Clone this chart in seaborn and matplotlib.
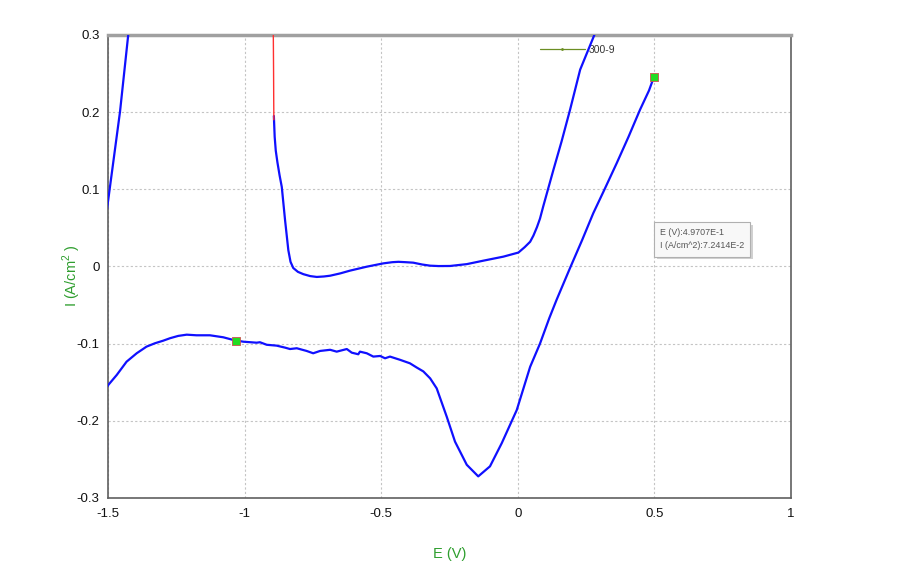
import numpy as np
import pandas as pd
import seaborn as sns
import matplotlib.pyplot as plt
from matplotlib.lines import Line2D
from matplotlib.ticker import MultipleLocator
import matplotlib.patheffects as pe

# forward scan, first bit (red) near -0.9 V
red_E = [-0.897, -0.895, -0.894, -0.8935, -0.893]
red_I = [0.320, 0.300, 0.250, 0.215, 0.190]

# forward scan, blue
fwd_E = [-0.893, -0.890, -0.886, -0.880, -0.872, -0.864, -0.852, -0.840, -0.832, -0.822,
         -0.805, -0.785, -0.760, -0.736, -0.710, -0.687, -0.650, -0.614, -0.553,
         -0.492, -0.460, -0.437, -0.410, -0.383, -0.350, -0.321, -0.290, -0.248,
         -0.187, -0.126, -0.053, 0.002, 0.025, 0.045, 0.057, 0.070, 0.081, 0.093,
         0.130, 0.160, 0.191, 0.228, 0.280, 0.290]
fwd_I = [0.195, 0.168, 0.150, 0.135, 0.118, 0.103, 0.060, 0.021, 0.006, -0.002,
         -0.007, -0.010, -0.0125, -0.0136, -0.013, -0.012, -0.009, -0.0054, -0.0003,
         0.004, 0.0055, 0.006, 0.0055, 0.0049, 0.0025, 0.001, 0.0005, 0.0006,
         0.003, 0.0075, 0.0127, 0.018, 0.025, 0.032, 0.040, 0.051, 0.062, 0.078,
         0.125, 0.162, 0.203, 0.255, 0.300, 0.315]

# reverse scan from 0.5 V back to -1.5 V
rev_E = [0.4985, 0.480, 0.447, 0.405, 0.362, 0.320, 0.276, 0.235, 0.191, 0.142,
         0.115, 0.081, 0.045, -0.004, -0.059, -0.102, -0.145, -0.187, -0.230,
         -0.260, -0.297, -0.321, -0.346, -0.370, -0.395, -0.431, -0.468, -0.486,
         -0.504, -0.529, -0.553, -0.578, -0.584, -0.608, -0.626, -0.663, -0.687,
         -0.724, -0.749, -0.773, -0.809, -0.834, -0.852, -0.883, -0.919, -0.944,
         -0.956, -1.005, -1.041, -1.078, -1.127, -1.176, -1.212, -1.243, -1.273,
         -1.298, -1.328, -1.359, -1.395, -1.432, -1.468, -1.499, -1.520]
rev_I = [0.246, 0.228, 0.203, 0.168, 0.134, 0.102, 0.069, 0.034, -0.002, -0.043,
         -0.067, -0.100, -0.130, -0.186, -0.229, -0.259, -0.272, -0.257, -0.227,
         -0.195, -0.158, -0.145, -0.136, -0.131, -0.1255, -0.121, -0.1168, -0.119,
         -0.116, -0.1168, -0.1125, -0.1104, -0.1138, -0.1117, -0.107, -0.1104, -0.108,
         -0.1095, -0.1125, -0.1095, -0.106, -0.107, -0.1052, -0.1026, -0.1015, -0.0982,
         -0.0988, -0.0975, -0.0953, -0.0918, -0.0892, -0.0892, -0.0884, -0.090, -0.093,
         -0.0962, -0.0995, -0.1039, -0.1125, -0.1234, -0.1406, -0.1536, -0.165]

# second cycle coming up on the left edge
left_E = [-1.520, -1.500, -1.456, -1.426, -1.420]
left_I = [0.030, 0.084, 0.2006, 0.300, 0.320]

# cursor markers
mark_E = [0.4985, -1.032]
mark_I = [0.246, -0.096]

series_name = "300-9"
tip_lines = ["E (V):4.9707E-1", "I (A/cm^2):7.2414E-2"]

sns.set_style("white")
plt.rcParams['font.family'] = ['Liberation Sans', 'DejaVu Sans']
plt.rcParams['mathtext.fontset'] = 'custom'
plt.rcParams['mathtext.rm'] = 'Liberation Sans'

fig = plt.figure(figsize=(9, 5.81), dpi=100)
ax = fig.add_axes([0.12, 0.1429, 0.759, 0.797])

blue = "#1010ff"
segs = [(fwd_E, fwd_I), (rev_E, rev_I), (left_E, left_I)]
for e, i in segs:
    df = pd.DataFrame({"E": e, "I": i})
    sns.lineplot(data=df, x="E", y="I", sort=False, estimator=None,
                 color=blue, linewidth=1.6, ax=ax, zorder=3)
red_df = pd.DataFrame({"E": red_E, "I": red_I})
sns.lineplot(data=red_df, x="E", y="I", sort=False, estimator=None,
             color="#ff3030", linewidth=1.0, ax=ax, zorder=3)

mk = pd.DataFrame({"E": mark_E, "I": mark_I})
sns.scatterplot(data=mk, x="E", y="I", marker="s", s=30, color="#22dd22",
                edgecolor="#d05050", linewidth=0.6, ax=ax, zorder=4)

ax.set_xlim(-1.5, 1)
ax.set_ylim(-0.3, 0.3)
ax.xaxis.set_major_locator(MultipleLocator(0.5))
ax.xaxis.set_minor_locator(MultipleLocator(0.25))
ax.yaxis.set_major_locator(MultipleLocator(0.1))
ax.yaxis.set_minor_locator(MultipleLocator(0.05))
ax.xaxis.set_major_formatter(plt.FuncFormatter(lambda v, p: f"{v:g}"))
ax.yaxis.set_major_formatter(plt.FuncFormatter(lambda v, p: f"{v:g}"))
ax.tick_params(which="major", length=0, labelsize=9.5, pad=7, labelcolor="#111111")
ax.tick_params(axis="y", which="major", pad=6)
ax.tick_params(which="minor", direction="in", length=4, color="#666666", width=0.8)
ax.grid(True, which="major", color="#c4c4c4", linestyle=(0, (2, 2)), linewidth=0.8)

for s in ["left", "bottom", "right"]:
    ax.spines[s].set_color("#606060")
    ax.spines[s].set_linewidth(1.2)
ax.spines["top"].set_color("#a0a0a0")
ax.spines["top"].set_linewidth(2.5)

ax.set_xlabel("E (V)", color="#2e9e2e", fontsize=10.5, labelpad=20)
ax.set_ylabel("I (A/cm$^{2}$ )", color="#2e9e2e", fontsize=10.5)
ax.yaxis.set_label_coords(-0.036, 0.48)

# legend
h = Line2D([], [], color="#6b8e23", linewidth=0.9, marker=".", markersize=2)
leg = ax.legend([h], [series_name], loc="upper left", bbox_to_anchor=(0.6325, 0.978),
                frameon=False, borderpad=0, borderaxespad=0, handlelength=4.3,
                handletextpad=0.4, fontsize=7.5, labelcolor="#333333")
leg.set_zorder(1)

# cursor tooltip
ax.text(0.808, 0.582, "\n".join(tip_lines), transform=ax.transAxes,
        fontsize=6.4, color="#555555", va="top", ha="left", linespacing=1.55,
        bbox=dict(boxstyle="square,pad=0.7", facecolor="#f8f8f8",
                  edgecolor="#b0b0b0", linewidth=0.8,
                  path_effects=[pe.withSimplePatchShadow(offset=(2, -2), alpha=0.25)]),
        zorder=5)

fig.savefig("out.png", dpi=100)
